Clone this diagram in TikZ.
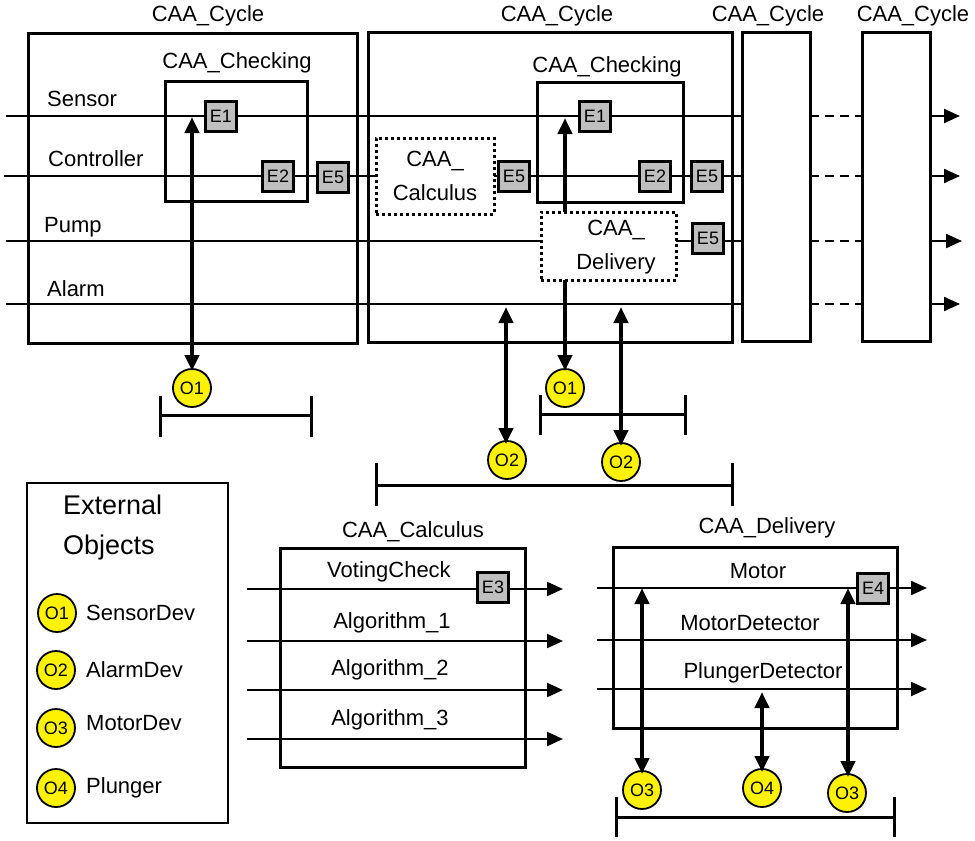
\documentclass[tikz,border=0pt]{standalone}
\usepackage{fontspec}
\setmainfont{Liberation Sans}
\usetikzlibrary{arrows.meta}
\begin{document}
\begin{tikzpicture}[x=1pt,y=-1pt,
  lbl/.style={inner sep=0pt, font=\fontsize{22}{26}\selectfont},
  bigbox/.style={draw, line width=3pt, inner sep=0pt, outer sep=0pt},
  dotbox/.style={draw, line width=3pt, dash pattern=on 3pt off 3pt, inner sep=0pt, outer sep=0pt, align=center, font=\fontsize{22}{34}\selectfont},
  ebox/.style={draw, line width=3pt, fill=black!25, minimum width=31pt, minimum height=30pt, inner sep=0pt, outer sep=0pt, font=\fontsize{18}{20}\selectfont},
  obj/.style={circle, draw, line width=1.8pt, fill=yellow, minimum size=38pt, inner sep=0pt, outer sep=0pt, font=\fontsize{18}{20}\selectfont},
  thin/.style={line width=2.2pt},
  tip/.style={line width=2.2pt, -{Triangle[length=16pt,width=14pt]}},
  dbl/.style={line width=4.2pt, {Triangle[length=16pt,width=14pt]}-{Triangle[length=16pt,width=14pt]}},
  uparr/.style={line width=4.2pt, -{Triangle[length=16pt,width=14pt]}},
  brk/.style={line width=3pt},
  dsh/.style={line width=2.2pt, dash pattern=on 9pt off 6pt}]
\useasboundingbox (0,0) rectangle (975,841);

% ---------- cycles ----------
\node[bigbox, minimum width=329pt, minimum height=310pt] (cyc1) at (192.5,188) {};
\node[bigbox, minimum width=364pt, minimum height=310pt] (cyc2) at (550,187) {};
\node[bigbox, minimum width=68pt, minimum height=309pt] (cyc3) at (776,186.5) {};
\node[bigbox, minimum width=68pt, minimum height=309pt] (cyc4) at (896,186.5) {};
\node[lbl] (lc1) at (208,16) {CAA\_Cycle};
\node[lbl] (lc2) at (557,16) {CAA\_Cycle};
\node[lbl] (lc3) at (768,16) {CAA\_Cycle};
\node[lbl] (lc4) at (913,16) {CAA\_Cycle};

\node[bigbox, minimum width=142pt, minimum height=120pt] (chk1) at (236,141) {};
\node[bigbox, minimum width=146pt, minimum height=120pt] (chk2) at (610,142) {};
\node[lbl] (lk1) at (237,63) {CAA\_Checking};
\node[lbl] (lk2) at (607,67) {CAA\_Checking};

\node[dotbox, minimum width=118pt, minimum height=76pt] (calc) at (435,176) {CAA\_\\Calculus};
\node[dotbox, minimum width=135pt, minimum height=68pt] (deliv) at (608.5,246) {};
\node[lbl, align=center, font=\fontsize{22}{34}\selectfont] (delivt) at (616,247) {CAA\_\\Delivery};

% signal names
\node[lbl, anchor=west] (tsen) at (47,99) {Sensor};
\node[lbl, anchor=west] (tcon) at (48,159) {Controller};
\node[lbl, anchor=west] (tpum) at (44,227) {Pump};
\node[lbl, anchor=west] (tala) at (47,289) {Alarm};

% E boxes
\node[ebox] (e1a) at (221,116) {E1};
\node[ebox] (e2a) at (278,176) {E2};
\node[ebox] (e5a) at (333,177) {E5};
\node[ebox] (e5b) at (514,176) {E5};
\node[ebox] (e1b) at (595,116) {E1};
\node[ebox] (e2b) at (655,176) {E2};
\node[ebox] (e5c) at (707,176) {E5};
\node[ebox] (e5d) at (708,238) {E5};

% line coordinates
\coordinate (s0) at (6,116);
\coordinate (c0) at (4,176);
\coordinate (p0) at (6,241);
\coordinate (a0) at (6,304);

% sensor
\draw[thin] (s0) -- (e1a.west);
\draw[thin] (e1a.east) -- (e1b.west);
\draw[thin] (e1b.east) -- (cyc3.west |- s0);
% controller
\draw[thin] (c0) -- (e2a.west);
\draw[thin] (e2a.east) -- (e5a.west |- c0);
\draw[thin] (e5a.east |- c0) -- (calc.west |- c0);
\draw[thin] (calc.east |- c0) -- (e5b.west);
\draw[thin] (e5b.east) -- (e2b.west);
\draw[thin] (e2b.east) -- (e5c.west);
\draw[thin] (e5c.east) -- (cyc3.west |- c0);
% pump
\draw[thin] (p0) -- (p0 -| deliv.west);
\draw[thin] (p0 -| deliv.east) -- (p0 -| e5d.west);
\draw[thin] (p0 -| e5d.east) -- (cyc3.west |- p0);
% alarm
\draw[thin] (a0) -- (cyc3.west |- a0);

% between cycle 3 and 4, and outputs
\foreach \yy/\tx in {116/960,176/960,241/962,304/960}{
  \coordinate (yy) at (0,\yy);
  \draw[dsh] (cyc3.east |- yy) -- (cyc4.west |- yy);
  \coordinate (tt) at (\tx,\yy);
  \draw[tip] (cyc4.east |- yy) -- (tt);
}

% objects top
\node[obj] (o1a) at (192,388) {O1};
\node[obj] (o1b) at (565,388) {O1};
\node[obj] (o2a) at (507,460) {O2};
\node[obj] (o2b) at (621,462) {O2};

\coordinate (t1) at (192,117);
\draw[dbl] (t1) -- ([yshift=-2pt]o1a.north);
\coordinate (ua) at (565,118);
\draw[uparr] (ua |- deliv.north) -- (ua);
\draw[uparr] (ua |- deliv.south) -- ([yshift=-2pt]o1b.north);
\coordinate (t2a) at (506,307);
\draw[dbl] (t2a) -- ([yshift=-3pt]o2a.north -| t2a);
\coordinate (t2b) at (621,307);
\draw[dbl] (t2b) -- ([yshift=-3pt]o2b.north);

% brackets top
\draw[brk] (160,396) -- (160,437) (160,415) -- (311,415) (311,396) -- (311,437);
\draw[brk] (540,395) -- (540,435) (540,414) -- (685,414) (685,395) -- (685,435);
\draw[brk] (376,463) -- (376,506) (376,485) -- (732,485) (732,463) -- (732,506);

% ---------- External objects legend ----------
\node[draw, line width=2.2pt, minimum width=201pt, minimum height=340pt, inner sep=0pt] (ext) at (127.5,653) {};
\node[lbl, anchor=west, align=left, font=\fontsize{27}{40}\selectfont] (extt) at (63,528) {External\\Objects};
\node[obj] (lo1) at (57,613) {O1};
\node[obj] (lo2) at (56,670) {O2};
\node[obj] (lo3) at (56,728) {O3};
\node[obj] (lo4) at (56,788) {O4};
\node[lbl, anchor=west] (ld1) at (86,613) {SensorDev};
\node[lbl, anchor=west] (ld2) at (86,670) {AlarmDev};
\node[lbl, anchor=west] (ld3) at (86,723) {MotorDev};
\node[lbl, anchor=west] (ld4) at (86,788) {Plunger};

% ---------- CAA_Calculus ----------
\node[bigbox, minimum width=245pt, minimum height=219pt] (cal) at (402.5,657.5) {};
\node[lbl] (lcal) at (413,532) {CAA\_Calculus};
\node[lbl] (tvc) at (389,572) {VotingCheck};
\node[lbl] (ta1) at (392,623) {Algorithm\_1};
\node[lbl] (ta2) at (390,670) {Algorithm\_2};
\node[lbl] (ta3) at (390,720) {Algorithm\_3};
\node[ebox] (e3) at (493,587) {E3};
\coordinate (v0) at (247,589);
\coordinate (v1) at (563,589);
\draw[thin] (v0) -- (v0 -| e3.west);
\draw[tip] (v0 -| e3.east) -- (v1);
\coordinate (g10) at (247,641); \coordinate (g11) at (563,641);
\coordinate (g20) at (247,690); \coordinate (g21) at (563,690);
\coordinate (g30) at (247,739); \coordinate (g31) at (563,739);
\draw[tip] (g10) -- (g11);
\draw[tip] (g20) -- (g21);
\draw[tip] (g30) -- (g31);

% ---------- CAA_Delivery ----------
\node[bigbox, minimum width=284pt, minimum height=181pt] (del) at (755,637.5) {};
\node[lbl] (ldel) at (767,528) {CAA\_Delivery};
\node[lbl] (tmo) at (758,571) {Motor};
\node[lbl] (tmd) at (750,623) {MotorDetector};
\node[lbl] (tpd) at (763,673) {PlungerDetector};
\node[ebox] (e4) at (873,588) {E4};
\coordinate (m0) at (597,588); \coordinate (m1) at (927,588);
\draw[thin] (m0) -- (m0 -| e4.west);
\draw[tip] (m0 -| e4.east) -- (m1);
\coordinate (md0) at (597,640); \coordinate (md1) at (927,640);
\coordinate (pd0) at (597,689); \coordinate (pd1) at (927,689);
\draw[tip] (md0) -- (md1);
\draw[tip] (pd0) -- (pd1);

\node[obj] (o3a) at (642,790) {O3};
\node[obj] (o4) at (762,788) {O4};
\node[obj] (o3b) at (847,793) {O3};
\coordinate (t3a) at (642,588);
\coordinate (t4) at (762,692);
\coordinate (t3b) at (848,588);
\draw[dbl] (t3a) -- ([yshift=-3pt]o3a.north);
\draw[dbl] (t4) -- ([yshift=-3pt]o4.north);
\draw[dbl] (t3b) -- ([yshift=-3pt]o3b.north -| t3b);

\draw[brk] (616,797) -- (616,837) (616,817) -- (894,817) (894,797) -- (894,837);
\end{tikzpicture}
\end{document}
